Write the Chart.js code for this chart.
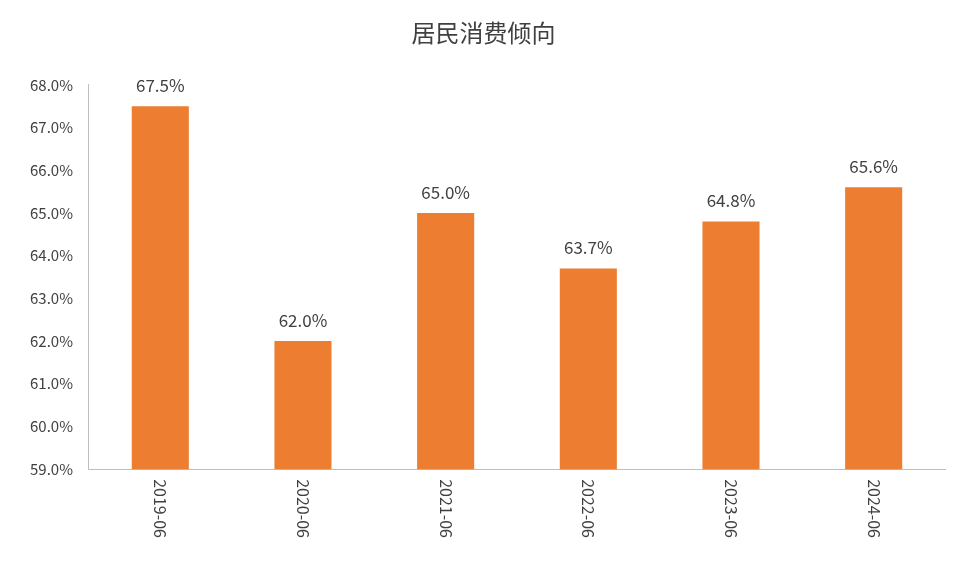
<!DOCTYPE html><html><head><meta charset="utf-8">
<script src="https://cdn.jsdelivr.net/npm/chart.js@4"></script>
<style>body{margin:0;background:#fff}#w{width:960px;height:588px}</style></head><body>
<div id="w"><canvas id="c"></canvas></div>
<script>
const categories=['2019-06','2020-06','2021-06','2022-06','2023-06','2024-06'];
const values=[67.5,62.0,65.0,63.7,64.8,65.6];
const title='居民消费倾向';
const FONT="'Noto Sans CJK SC','Noto Sans',sans-serif";
const labelsPlugin={id:'lbl',afterDatasetsDraw(ch){
 const ctx=ch.ctx,meta=ch.getDatasetMeta(0),xs=ch.scales.x;
 ctx.save();ctx.fillStyle='#404040';ctx.font='17px '+FONT;ctx.textAlign='center';ctx.textBaseline='bottom';
 meta.data.forEach((b,i)=>ctx.fillText(values[i].toFixed(1)+'%',b.x,b.y-12));
 ctx.font='16px '+FONT;ctx.textAlign='left';ctx.textBaseline='middle';
 categories.forEach((c,i)=>{const x=xs.getPixelForTick(i);ctx.save();ctx.translate(x,xs.top+10);ctx.rotate(Math.PI/2);ctx.fillText(c,0,0);ctx.restore();});
 ctx.restore();}};
new Chart(document.getElementById('c'),{type:'bar',
 data:{labels:categories,datasets:[{data:values,backgroundColor:'#ED7D31',barPercentage:0.4,categoryPercentage:1}]},
 options:{responsive:true,maintainAspectRatio:false,animation:false,
  layout:{padding:{left:22,right:15,top:0,bottom:0}},
  plugins:{legend:{display:false},tooltip:{enabled:false},
   title:{display:true,text:title,color:'#404040',font:{family:FONT,size:24,weight:'normal'},padding:{top:18,bottom:38}}},
  scales:{
   x:{grid:{display:false,drawTicks:false},border:{color:'#bfbfbf'},ticks:{color:'rgba(0,0,0,0)',font:{family:FONT,size:16},minRotation:90,maxRotation:90,padding:30}},
   y:{min:59,max:68,grid:{display:false},border:{color:'#bfbfbf'},
    ticks:{stepSize:1,color:'#404040',font:{family:FONT,size:15},callback:v=>v.toFixed(1)+'%',padding:8}}}},
 plugins:[labelsPlugin]});
</script></body></html>
